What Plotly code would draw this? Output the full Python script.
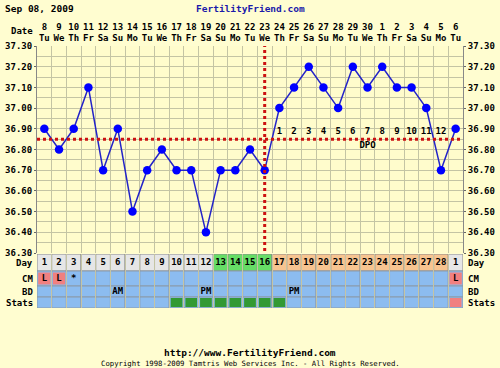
import plotly.graph_objects as go

# ---------------- data ----------------
dates = [8, 9, 10, 11, 12, 13, 14, 15, 16, 17, 18, 19, 20, 21, 22, 23, 24, 25, 26, 27, 28, 29, 30, 1, 2, 3, 4, 5, 6]
weekdays = ["Tu", "We", "Th", "Fr", "Sa", "Su", "Mo"] * 4 + ["Tu"]
cycle_days = list(range(1, 29)) + [1]
temps = [36.90, 36.80, 36.90, 37.10, 36.70, 36.90, 36.50, 36.70, 36.80, 36.70,
         36.70, 36.40, 36.70, 36.70, 36.80, 36.70, 37.00, 37.10, 37.20, 37.10,
         37.00, 37.20, 37.10, 37.20, 37.10, 37.10, 37.00, 36.70, 36.90]
day_phase = ["pre"] * 12 + ["fertile"] * 4 + ["luteal"] * 12 + ["next"]
cm_marks = ["L", "L", "*"] + [""] * 25 + ["L"]
bd_marks = [""] * 5 + ["AM"] + [""] * 5 + ["PM"] + [""] * 5 + ["PM"] + [""] * 11
stats_marks = [""] * 9 + ["g"] * 8 + [""] * 11 + ["p"]
dpo_labels = [""] * 16 + [str(i) for i in range(1, 13)] + [""]
coverline = 36.85
ovulation_day = 16
chart_date = "Sep 08, 2009"
site = "FertilityFriend.com"

# ---------------- style ----------------
BG = "#fffdd0"
PLOT_BG = "#fffccc"
GRID = "#c4c4a4"
FONT = "DejaVu Sans Mono"
FS = 9
phase_col = {"pre": "#e6e6e6", "fertile": "#66dd66", "luteal": "#f7c490", "next": "#e6e6e6"}
BLUE_CELL = "#8cbcf0"
PINK = "#f08080"
DKGREEN = "#339933"
RED = "#cc1111"

n = len(dates)
xs = list(range(1, n + 1))

fig = go.Figure()

fig.add_trace(go.Scatter(x=xs, y=temps, mode="lines+markers",
                         line=dict(color="#2323c8", width=1.5),
                         marker=dict(color="#0000ff", size=8.5),
                         hoverinfo="skip", showlegend=False))
fig.add_trace(go.Scatter(x=xs, y=[coverline + 0.035] * n, mode="text", text=dpo_labels,
                         textfont=dict(family=FONT, size=FS, color="black", weight="bold"),
                         hoverinfo="skip", showlegend=False))
fig.add_trace(go.Scatter(x=[23], y=[coverline - 0.03], mode="text", text=["DPO"],
                         textfont=dict(family=FONT, size=FS, color="black", weight="bold"),
                         hoverinfo="skip", showlegend=False))
fig.add_trace(go.Scatter(x=[1], y=[37.0], yaxis="y3", mode="none",
                         hoverinfo="skip", showlegend=False))

rows = {"Stats": (0, 11), "BD": (11, 22), "CM": (22, 37), "Day": (37, 54)}

shapes = []
for i, x in enumerate(xs):
    y0, y1 = rows["Day"]
    shapes.append(dict(type="rect", xref="x", yref="y2", x0=x - 0.5, x1=x + 0.5, y0=y0, y1=y1,
                       fillcolor=phase_col[day_phase[i]], line=dict(color="#8a8a8a", width=1), layer="below"))
    y0, y1 = rows["CM"]
    shapes.append(dict(type="rect", xref="x", yref="y2", x0=x - 0.5, x1=x + 0.5, y0=y0, y1=y1,
                       fillcolor=BLUE_CELL, line=dict(color="#8a9aaa", width=1), layer="below"))
    if cm_marks[i] == "L":
        shapes.append(dict(type="rect", xref="x", yref="y2", x0=x - 0.42, x1=x + 0.42, y0=y0 + 1.5, y1=y1 - 1.5,
                           fillcolor=PINK, line=dict(width=0), layer="below"))
    y0, y1 = rows["BD"]
    shapes.append(dict(type="rect", xref="x", yref="y2", x0=x - 0.5, x1=x + 0.5, y0=y0, y1=y1,
                       fillcolor=BLUE_CELL, line=dict(color="#8a9aaa", width=1), layer="below"))
    y0, y1 = rows["Stats"]
    shapes.append(dict(type="rect", xref="x", yref="y2", x0=x - 0.5, x1=x + 0.5, y0=y0, y1=y1,
                       fillcolor=BLUE_CELL, line=dict(color="#8a9aaa", width=1), layer="below"))
    if stats_marks[i]:
        shapes.append(dict(type="rect", xref="x", yref="y2", x0=x - 0.4, x1=x + 0.4, y0=y0 + 1, y1=y1 - 1,
                           fillcolor=DKGREEN if stats_marks[i] == "g" else PINK,
                           line=dict(width=0), layer="below"))

shapes.append(dict(type="line", xref="x", yref="y", x0=0.5, x1=n + 0.5, y0=coverline, y1=coverline,
                   line=dict(color=RED, width=3, dash="dot")))
shapes.append(dict(type="line", xref="x", yref="y", x0=ovulation_day, x1=ovulation_day, y0=36.31, y1=37.3,
                   line=dict(color=RED, width=3, dash="dot")))

tf = dict(family=FONT, size=FS, color="black", weight="bold")
fig.add_trace(go.Scatter(x=xs, y=[sum(rows["Day"]) / 2] * n, yaxis="y2", mode="text",
                         text=[str(d) for d in cycle_days], textfont=tf, hoverinfo="skip", showlegend=False))
fig.add_trace(go.Scatter(x=xs, y=[sum(rows["CM"]) / 2] * n, yaxis="y2", mode="text",
                         text=cm_marks, textfont=tf, hoverinfo="skip", showlegend=False))
fig.add_trace(go.Scatter(x=xs, y=[sum(rows["BD"]) / 2] * n, yaxis="y2", mode="text",
                         text=bd_marks, textfont=tf, hoverinfo="skip", showlegend=False))

W, H = 500, 368
L, R = 37, 37
T, B = 46, 60
ph = H - T - B
pw = W - L - R
def py(ypix):
    return (H - B - ypix) / ph
def px(xpix):
    return (xpix - L) / pw

annotations = []
for name, (y0, y1) in rows.items():
    yc = (y0 + y1) / 2
    annotations.append(dict(xref="paper", yref="y2", x=0, y=yc, xanchor="right", yanchor="middle",
                            xshift=-2, text=name, showarrow=False, font=tf))
    annotations.append(dict(xref="paper", yref="y2", x=1, y=yc, xanchor="left", yanchor="middle",
                            xshift=3, text=name, showarrow=False, font=tf))
annotations.append(dict(xref="paper", yref="paper", x=0, y=py(31), xanchor="right", yanchor="middle",
                        xshift=-2, text="Date", showarrow=False, font=tf))
annotations.append(dict(xref="paper", yref="paper", x=px(3), y=py(8), xanchor="left", yanchor="middle",
                        text=chart_date, showarrow=False, font=dict(family=FONT, size=9.5, color="black", weight="bold")))
annotations.append(dict(xref="paper", yref="paper", x=px(250), y=py(8), xanchor="center", yanchor="middle",
                        text=site, showarrow=False, font=dict(family=FONT, size=9.5, color="#1a1aaa", weight="bold")))
annotations.append(dict(xref="paper", yref="paper", x=px(250), y=py(352), xanchor="center", yanchor="middle",
                        text="http://www.FertilityFriend.com", showarrow=False,
                        font=dict(family=FONT, size=9.5, color="black", weight="bold")))
annotations.append(dict(xref="paper", yref="paper", x=px(250), y=py(363), xanchor="center", yanchor="middle",
                        text="Copyright 1998-2009 Tamtris Web Services Inc. - All Rights Reserved.", showarrow=False,
                        font=dict(family=FONT, size=7.3, color="black")))

temp_ticks = [round(36.3 + 0.1 * i, 2) for i in range(11)]
ylab = dict(family=FONT, size=FS, color="black", weight="bold")

fig.update_layout(
    template="none",
    width=W, height=H,
    margin=dict(l=L, r=R, t=T, b=B, pad=0),
    paper_bgcolor=BG, plot_bgcolor=PLOT_BG,
    showlegend=False,
    shapes=shapes, annotations=annotations,
    xaxis=dict(range=[0.5, n + 0.5], side="top", anchor="y", automargin=False,
               tickmode="array", tickvals=xs, ticktext=weekdays,
               tickfont=tf, ticks="", ticklabelstandoff=2,
               showgrid=False, zeroline=False, showline=False,
               minor=dict(tickmode="array", tickvals=[x + 0.5 for x in range(0, n + 1)],
                          showgrid=True, gridcolor=GRID, gridwidth=1, ticks="")),
    xaxis2=dict(range=[0.5, n + 0.5], side="top", overlaying="x", anchor="y", matches="x", automargin=False,
                tickmode="array", tickvals=xs, ticktext=[str(d) for d in dates],
                tickfont=tf, ticks="", ticklabelstandoff=13,
                showgrid=False, zeroline=False, showline=False),
    yaxis=dict(domain=[55 / ph, 1], range=[36.3, 37.3], tickmode="array", tickvals=temp_ticks,
               automargin=False,
               ticktext=[f"{t:.2f}" for t in temp_ticks], tickfont=ylab,
               ticks="outside", ticklen=2, tickcolor="#666",
               showgrid=True, gridcolor=GRID, gridwidth=1, zeroline=False,
               showline=True, linecolor="#888", linewidth=1, mirror=True,
               minor=dict(dtick=0.05, tick0=36.3, showgrid=True, gridcolor=GRID, gridwidth=1)),
    yaxis2=dict(domain=[0, 54 / ph], range=[0, 54], anchor="x", showgrid=False, zeroline=False,
                automargin=False, showticklabels=False, ticks="", showline=False),
    yaxis3=dict(range=[36.3, 37.3], overlaying="y", side="right", anchor="x", matches="y",
                automargin=False,
                tickmode="array", tickvals=temp_ticks, ticktext=[f"{t:.2f}" for t in temp_ticks],
                tickfont=ylab, ticks="outside", ticklen=2, tickcolor="#666",
                showgrid=False, zeroline=False, showline=False),
)

fig.add_trace(go.Scatter(x=[1], y=[37.0], xaxis="x2", mode="none", hoverinfo="skip", showlegend=False))

fig.write_html("out.html")
